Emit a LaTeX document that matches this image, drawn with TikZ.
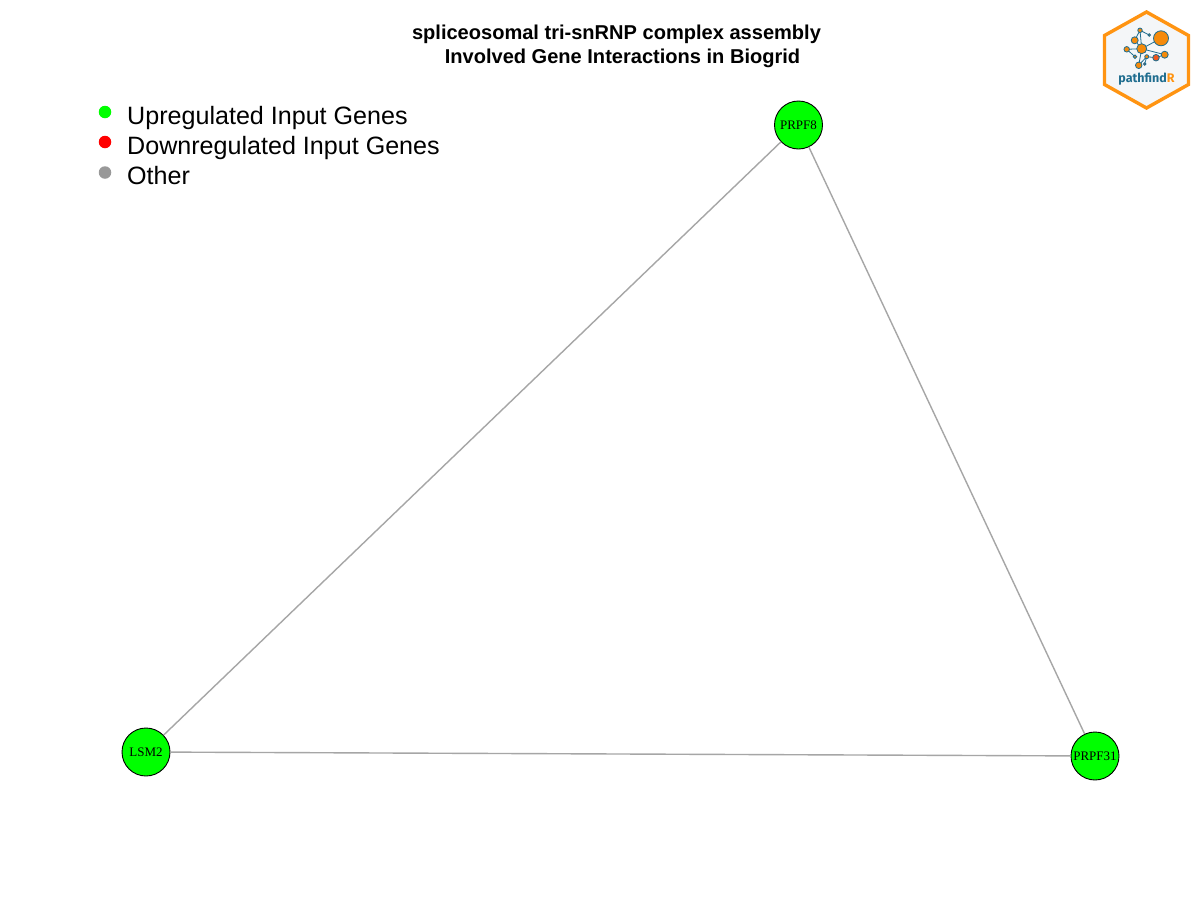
\documentclass[tikz,border=0pt]{standalone}
\usepackage{fontspec}
\setmainfont{Liberation Sans}
\newfontfamily\genefont{Liberation Serif}
\newfontfamily\logofont{Fira Sans}
\definecolor{upgreen}{HTML}{00FF00}
\definecolor{downred}{HTML}{FF0000}
\definecolor{othergrey}{HTML}{999999}
\definecolor{edgegrey}{HTML}{A6A6A6}
\definecolor{logoorange}{HTML}{FF9412}
\definecolor{logofill}{HTML}{F4F6F8}
\definecolor{logoblue}{HTML}{1F6D8F}
\definecolor{logonode}{HTML}{F58A0B}
\definecolor{logored}{HTML}{F0561D}
\tikzset{
  gene/.style={circle,draw=black,fill=upgreen,line width=0.9pt,minimum size=48pt,inner sep=0pt,font=\genefont\fontsize{13}{13}\selectfont,text=black},
  edgeline/.style={draw=edgegrey,line width=1.4pt},
  titletext/.style={font=\bfseries\fontsize{20.05}{20}\selectfont,text=black,inner sep=0pt},
  legendtext/.style={font=\fontsize{25.1}{25}\selectfont,text=black,inner sep=0pt,anchor=base west},
  legenddot/.style={circle,minimum size=12.5pt,inner sep=0pt},
  lognode/.style={circle,draw=logoblue,line width=0.8pt,fill=logonode,inner sep=0pt},
  loglink/.style={draw=logoblue,line width=0.8pt}
}
\begin{document}
\begin{tikzpicture}[x=1pt,y=-1pt]
\useasboundingbox (0,0) rectangle (1200,900);
\fill[white] (0,0) rectangle (1200,900);

\node[titletext] (title1) at (616.5,34.3) {spliceosomal tri-snRNP complex assembly};
\node[titletext] (title2) at (622.5,58.3) {Involved Gene Interactions in Biogrid};

\node[legenddot,fill=upgreen] (d1) at (105,112) {};
\node[legenddot,fill=downred] (d2) at (105,142) {};
\node[legenddot,fill=othergrey] (d3) at (105,172.5) {};
\node[legendtext] (l1) at (127,124) {Upregulated Input Genes};
\node[legendtext] (l2) at (127,154) {Downregulated Input Genes};
\node[legendtext] (l3) at (127,184) {Other};

\node[gene] (prpf8) at (798.5,125) {\raisebox{-1pt}{PRPF8}};
\node[gene] (lsm2) at (146,752) {\raisebox{-1pt}{LSM2}};
\node[gene] (prpf31) at (1095,756) {\raisebox{-1pt}{PRPF31}};
\draw[edgeline] (prpf8) -- (lsm2);
\draw[edgeline] (prpf8) -- (prpf31);
\draw[edgeline] (lsm2) -- (prpf31);

% logo
\draw[draw=logoorange,fill=logofill,line width=3.4pt,line join=miter]
  (1146.5,12) -- (1188.5,35.5) -- (1188.5,84.5) -- (1146.5,108) -- (1104.5,84.5) -- (1104.5,35.5) -- cycle;
\coordinate (hub) at (1141.7,48.7);
\coordinate (a) at (1161,38.3);
\coordinate (b) at (1134.7,40.3);
\coordinate (c) at (1140,30.3);
\coordinate (e) at (1149.3,35);
\coordinate (f) at (1126.7,49.3);
\coordinate (g) at (1135,56.7);
\coordinate (h) at (1146.7,56.7);
\coordinate (i) at (1156,57.7);
\coordinate (j) at (1164.7,54.7);
\coordinate (k) at (1138.7,65.3);
\coordinate (m) at (1144.7,64);
\draw[loglink] (hub)--(a) (hub)--(b) (b)--(c) (c)--(e) (c)--(hub) (hub)--(f) (f)--(g) (hub)--(k) (hub)--(j) (h)--(i) (i)--(j) (h)--(k) (h)--(m);
\node[lognode,minimum size=15pt] (na) at (a) {};
\node[lognode,minimum size=10pt] (nhub) at (hub) {};
\node[lognode,minimum size=7pt] (nb) at (b) {};
\node[lognode,minimum size=4.5pt] (nc) at (c) {};
\node[lognode,minimum size=2.5pt] (ne) at (e) {};
\node[lognode,minimum size=5.5pt] (nf) at (f) {};
\node[lognode,minimum size=3.5pt] (ng) at (g) {};
\node[lognode,minimum size=4pt] (nh) at (h) {};
\node[lognode,minimum size=6.5pt,fill=logored] (ni) at (i) {};
\node[lognode,minimum size=7pt] (nj) at (j) {};
\node[lognode,minimum size=6.5pt] (nk) at (k) {};
\node[lognode,minimum size=2.5pt,fill=logored] (nm) at (m) {};
\node[font=\logofont\bfseries\fontsize{12.5}{12.5}\selectfont,inner sep=0pt] (logotext) at (1146.5,79.5) {\textcolor{logoblue}{pathfind}\textcolor{logoorange}{R}};
\end{tikzpicture}
\end{document}
